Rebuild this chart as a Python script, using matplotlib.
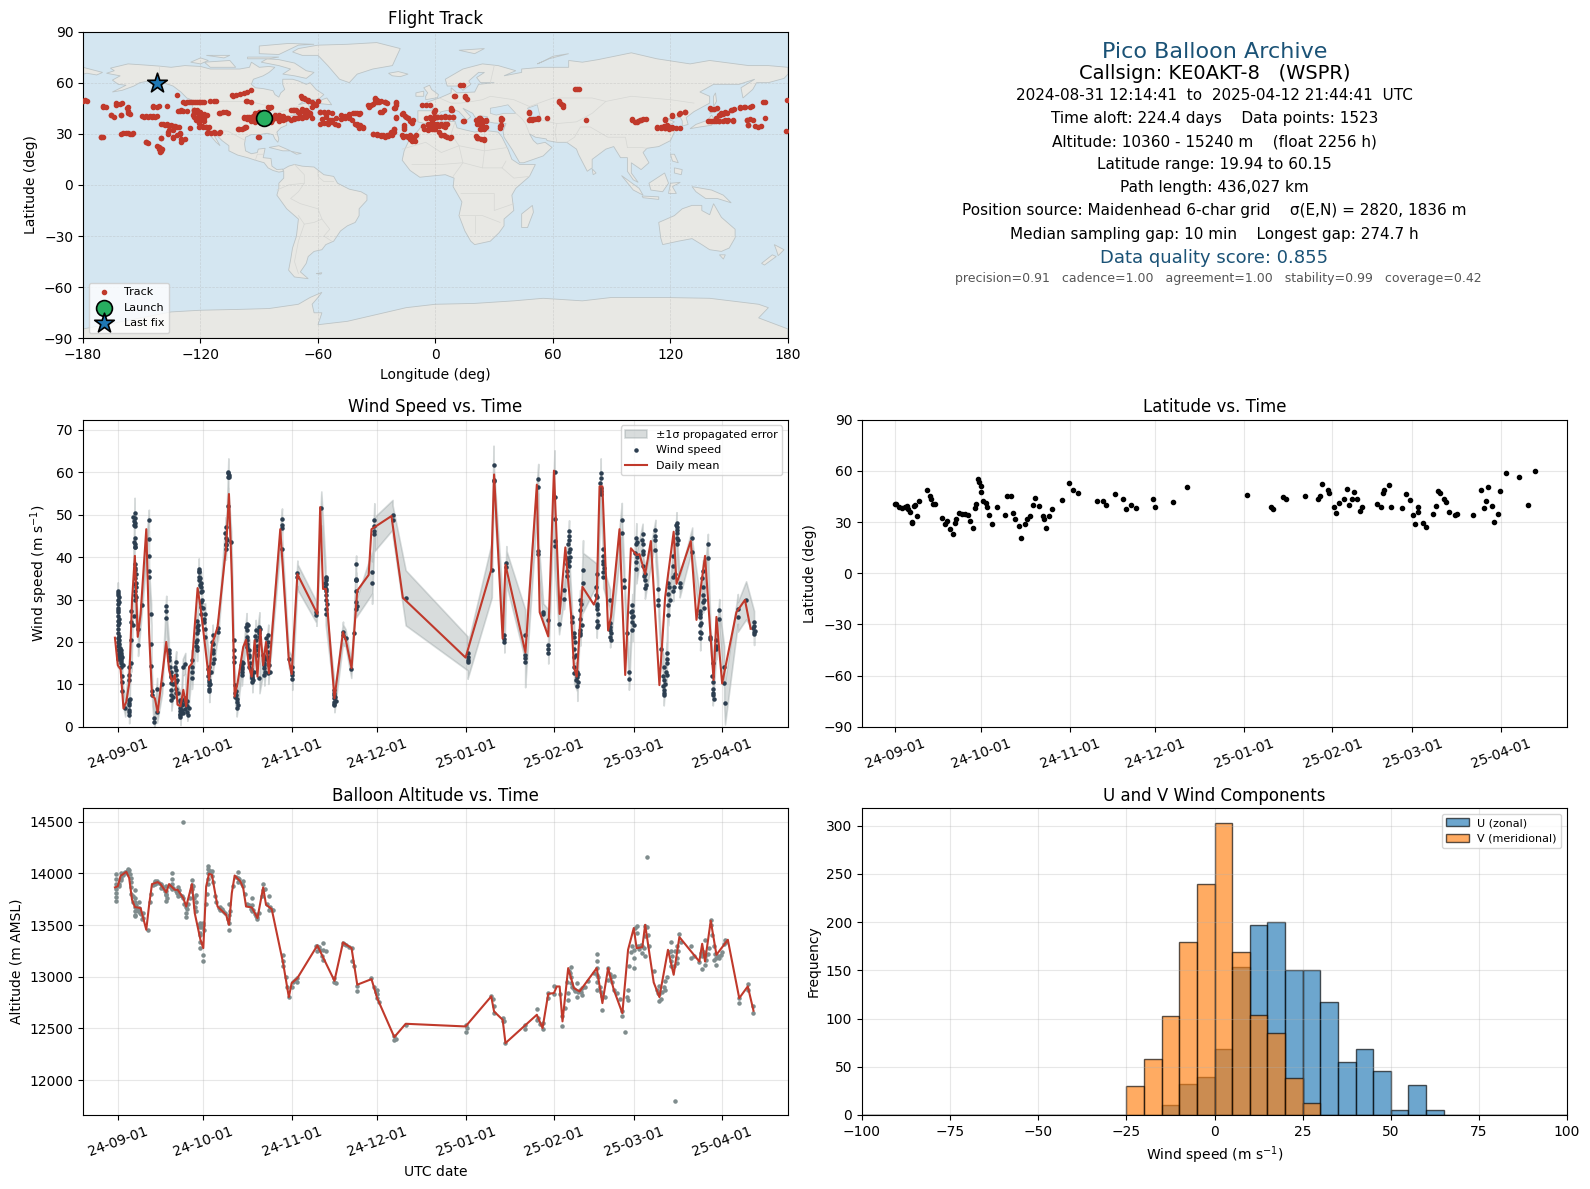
import datetime
import numpy as np
import matplotlib
matplotlib.use("Agg")
import matplotlib.pyplot as plt
import matplotlib.dates as mdates

# --- map outlines (lon, lat) ---
north_america = [(-168,65.5),(-164,67),(-166,68.5),(-157,71),(-148,70.3),(-141,69.7),(-135,69),(-128,70),(-120,69.5),(-115,68),(-108,68),(-100,68),(-95,69),(-94,72),(-90,69),(-85,69.5),(-82,69),(-85,66),(-88,64),(-93,62),(-94,59),(-92,57),(-88,56.5),(-83,55.3),(-82,53),(-80,51.5),(-79,54),(-77,56),(-78,59),(-78,62),(-73,62),(-70,61),(-66,59),(-64,60),(-61,56),(-57,53),(-60,50),(-66,50),(-70,47),(-65,48.5),(-64.5,46),(-61,46),(-64,44.5),(-67,45),(-70,43.5),(-71,41.5),(-74,40.5),(-76,38),(-76,35),(-79,33.5),(-81,31),(-80,27),(-80.5,25),(-82,27),(-83,29.5),(-86,30.3),(-90,29.5),(-94,29.5),(-97,28),(-97.5,24),(-97,20),(-94,18.3),(-91,19),(-90.5,21),(-87,21.5),(-88,16),(-84,15.5),(-83.5,11),(-81,9),(-78,9.3),(-77.5,8),(-80,7.5),(-83,8.5),(-85.5,10),(-87.5,13),(-92,14.5),(-96,16),(-101,17.5),(-105.5,20),(-105.5,23),(-109,26),(-112.5,30),(-114.5,31.5),(-112,27),(-110,23),(-112,25),(-115,29),(-117,32.5),(-120.5,34.5),(-122.5,37.5),(-124,40),(-124.5,43),(-124,47),(-122.5,49),(-127,51),(-130,54.5),(-134,58),(-139,60),(-146,61),(-151,60),(-154,58),(-160,55.5),(-165,54.5),(-158,58.5),(-162,59),(-165,61.5),(-161,64)]
south_america = [(-78,9),(-75,11),(-72,12),(-68,11),(-62,10.5),(-57,6),(-52,5),(-50,1),(-44,-2.5),(-38,-4),(-35,-6),(-35,-9),(-39,-14),(-39,-18),(-41,-22),(-45,-24),(-48.5,-27),(-52,-33),(-56,-35),(-58,-38),(-62,-39),(-65,-42),(-66,-46),(-69,-51),(-65,-55),(-72,-54),(-75,-50),(-74,-44),(-73,-37),(-71,-30),(-70,-20),(-76,-14),(-81,-6),(-80,-2),(-80,1),(-77.5,4),(-77.5,8)]
africa = [(-6,36),(3,37),(10,37.3),(11,33.5),(15,32.3),(20,31),(25,32),(32,31),(34,28),(37,21),(39,15),(43,12),(51,12),(48,5),(41,-2),(39,-6),(40,-15),(35,-20),(35,-24),(32.5,-28),(28,-33),(20,-35),(18,-33),(15,-27),(12,-18),(13.5,-10),(9,-1),(9.5,4),(5,6),(-4,5),(-8,4.5),(-13,8.5),(-17,14.5),(-16,20),(-13,27.5),(-9.5,31)]
eurasia = [(-9,37),(-9,43.5),(-2,43.5),(-1,46),(-4.5,48.5),(2,51),(8,54),(8,57),(11,54),(20,54.5),(22,59),(30,60),(23,60),(21,63),(25,66),(22,66),(17,61),(18,59),(14,55.5),(12,58),(6,58),(5,62),(14,68),(24,71),(32,70),(41,67),(35,64),(44,66),(44,68),(54,69),(68,69),(68,73),(75,72),(83,73.5),(100,77.5),(113,74),(130,71),(140,73),(160,70),(170,70),(180,69),(180,65),(178,62.5),(170,60),(164,60),(162,56),(157,51),(156,57),(163,62),(155,59),(142,59),(135,54.5),(140,52),(140,48),(132,43),(128,39.5),(129,35.5),(126,34.5),(126,37.5),(125,39.7),(121.5,39),(118,39),(122,37),(119.5,35),(122,31),(120,26),(114,22.5),(108,21.5),(106,19),(109,13),(105,9),(100,13),(100,7),(103.5,1.5),(101,3),(98,8),(98,16),(94.5,16),(91,22.5),(87,21),(80,15),(80,10),(77.5,8),(73,18),(72,21),(67,25),(62,25),(57,26),(56.5,27),(51,28),(48,30),(50,26),(52,24),(56,25),(59.5,22),(55,17),(45,13),(43,13),(39,21),(35,28),(34.5,31.5),(36,36),(30,36.3),(27,37),(26.5,40),(23,40.5),(23,37),(20,40),(19,42),(14,45),(18,40),(16,38),(12,43),(9,44.3),(3,43),(0,39),(-2,37),(-5.5,36)]
antarctica = [(-180,-84.5),(-155,-79),(-135,-74.5),(-120,-73.5),(-100,-73),(-85,-72.5),(-70,-70),(-64,-66),(-58,-63),(-60,-66),(-63,-70),(-62,-75),(-58,-75),(-60,-82),(-45,-80),(-30,-76),(-15,-72),(0,-70),(20,-69.5),(40,-68),(55,-66.5),(75,-68),(90,-66),(115,-66),(140,-66.5),(165,-70),(170,-72),(165,-78),(180,-84.5),(180,-90),(-180,-90)]
islands = [
    [(-73,78),(-68,76),(-60,76),(-55,70),(-52,66),(-49,62),(-44,60),(-40,65),(-32,68),(-22,70),(-20,75),(-18,80),(-30,83.5),(-45,82.5),(-60,82),(-70,80)],
    [(-80,73.5),(-72,71.5),(-66,67),(-62,66),(-66,62.5),(-72,64),(-78,65),(-74,68),(-80,70),(-89,72),(-86,74)],
    [(-118,72),(-105,73),(-102,69),(-115,69)], [(-125,72),(-120,74.5),(-116,73),(-120,71)],
    [(-90,77),(-80,76.5),(-70,82),(-62,82.5),(-75,83),(-90,81.5)], [(-96,75),(-80,75),(-85,74),(-96,74)],
    [(-117,76),(-105,76),(-108,74.5)], [(-59,47.7),(-53,47),(-55.5,51),(-58,50)],
    [(-5,50),(1,51.2),(1.5,53),(-2,56),(-3,58.5),(-6,57),(-4,54),(-5,52)], [(-10,52),(-6,52),(-6,55),(-10,54)],
    [(-24,65.5),(-19,66.5),(-14,65),(-18,63.5),(-22,64)], [(12,79),(25,80),(20,77)],
    [(52,71),(58,74),(68,77),(60,75.5),(55,72.5)], [(130,33),(135,34),(141,35),(142,39),(141,41),(139,38),(133,35.5)],
    [(140,42),(145,43.5),(142,45.5)], [(142,46),(143.5,49),(143,54),(142,52)], [(120,18),(122,18),(124,13),(121,14)],
    [(122,10),(126,9),(125.5,6),(122,7)], [(95,5.5),(104,-2),(106,-6),(101,-3)], [(109,1),(117,7),(119,1),(116,-4),(110,-3)],
    [(105.5,-6.5),(114,-7),(114,-8.5),(106,-7.5)], [(119,-5),(120,1),(125,1.5),(121,-1),(123,-5)],
    [(131,-1),(141,-3),(147,-6),(151,-10.5),(144,-8),(138,-8),(133,-4)],
    [(114,-22),(122,-18),(126,-14),(131,-12),(136,-12),(136,-15),(140,-17.5),(142,-11),(146,-19),(153,-26),(153,-31),(150,-37),(146,-39),(140,-38),(136,-35),(131,-31.5),(124,-33),(116,-35),(115,-31)],
    [(145,-41),(148,-41),(147,-43.5)], [(173,-35),(178,-38),(175,-41.5),(174,-38)], [(172,-41),(174,-42),(168,-47),(166.5,-46)],
    [(49.5,-12),(50,-16),(47,-25),(44,-25),(44,-17)], [(80,9.5),(82,7),(80.5,6)], [(-85,22),(-80,23),(-74,20),(-78,20)],
    [(-74,19.8),(-68.5,18.5),(-71,18)], [(-61,-52),(-58,-51.5),(-58.5,-52.3)], [(-180,69),(-175,67.5),(-170,66),(-173,64.5),(-178,65.5),(-180,65)],
]
inland_seas = [[(28,42),(28,45),(33,46),(37,47),(41,42),(35,42),(31,41)], [(47,45),(52,47),(53,42),(54,38),(50,37),(49,41)]]
borders = [
    [(-141,60),(-141,69.7)], [(-122.5,49),(-95,49),(-84,46),(-82,42),(-76,44),(-70,46),(-67,45)], [(-117,32.5),(-106,31.5),(-97,26)],
    [(-92,14.5),(-91,18),(-88,18)], [(-72,12),(-67,6),(-67,1),(-70,-4),(-74,-8),(-69,-11),(-60,-14),(-58,-20),(-54,-26),(-57,-30),(-53,-33)],
    [(-81,-3),(-75,0),(-67,1)], [(-70,-18),(-67,-23),(-70,-33),(-72,-45),(-70,-52)], [(-60,8),(-60,5),(-57,2),(-52,2)], [(-58,-20),(-62,-22),(-67,-23)],
    [(-13,27.5),(-8,27),(-8,30)], [(-17,21),(-5,25),(3,19),(12,23),(25,20),(37,22)], [(25,32),(25,20),(24,10),(34,10),(36,14)], [(10,37),(8,30),(12,23),(14,13),(9,5)],
    [(-12,12),(3,12),(14,13),(24,10)], [(13,-5),(30,-5),(30,-15),(40,-11)], [(12,-18),(24,-18),(33,-22)], [(20,-28),(20,-18)], [(34,10),(40,4),(48,5)],
    [(2,51),(8,48),(13,48),(19,49),(24,50),(28,52),(40,50),(48,46)], [(-2,43.5),(3,43)], [(28,60),(30,70)], [(48,46),(60,51),(80,51),(87,49),(100,52),(120,50),(132,48)],
    [(54,38),(62,36),(72,37),(80,42),(87,49)], [(48,30),(46,36),(44,39),(41,42)], [(62,25),(61,31),(62,36)], [(67,25),(71,28),(74,34),(79,34),(88,28),(97,28),(98,22)], [(98,22),(105,22),(108,21.5)],
]

# --- flight track fixes (lon, lat) ---
track_fixes = [
    (-180,49.2),(-178,49),(-170,45.9),(-168.5,45.9),(-163,47),(-161,47.4),(-157.5,45.3),(-157,43.5),(-156,41.4),(-165.5,40.8),(-164,39.8),(-160.5,40.8),
    (-149,40),(-147,40),(-145,40),(-143,40),(-144,46),(-142,46),(-137,46.5),(-132,53),(-130.5,43.3),(-129,43.6),(-127,43.3),
    (-128,48.2),(-126,48.6),(-124,48.6),(-122,48.8),(-120,48.8),(-118,48.8),(-115,49),(-113,49.3),(-112,49),
    (-123.5,43.7),(-122,42.5),(-121,41),(-120,40),(-119,38.5),(-118,37.5),(-122.4,37.9),(-123.6,40.8),(-120,43),(-118,41.5),
    (-110.6,42.2),(-108.5,42.5),(-106,42.2),(-103.6,52),(-102,52.8),(-100,53.5),(-98,54.2),(-96,54.8),(-94.2,55.4),(-96.5,49),(-94.4,48.8),
    (-97.7,39.4),(-96,38.8),(-95,40),(-94,39),(-93,40.5),(-92,38.5),(-91,39.8),(-90,41),(-89,38.5),(-88,40),(-87,41),(-86,38.5),(-85,39.5),(-84,40),(-83.6,38.2),
    (-85,45.3),(-84,46),(-90.7,28.1),(-90,28.3),(-100.5,33),(-99,33),(-97.3,33.8),(-118.8,34),(-117,34),(-115.5,34),(-116.5,30.7),(-114.5,30.7),(-112.5,30.7),(-110.6,30.7),
    (-140,35.5),(-138,35),(-136,34.5),(-134,34.5),(-132,34.2),(-131,34),(-136.4,30),(-136,32),(-130.5,30),(-132,29),(-129.4,26.2),(-130,27),(-134,27.5),
    (-160.5,30),(-158,30.3),(-156,30),(-155.2,29.8),(-171,28),(-170,28),(-148,25),(-147,24.5),(-141,22.5),(-141,21),(-140,20),(-142,23),(-140.4,27.7),(-125.4,33.6),
    (-81,39.3),(-79,39.8),(-77,38.8),(-75.5,39.4),(-68.4,51.2),(-66.5,50.2),(-65,49.6),(-63,48.5),(-61.4,47.6),(-60,49),(-66,44),(-63,45.5),(-73,43.7),(-71,44),(-69,43),(-67,42.5),
    (-72,38.9),(-70,39.5),(-68,39),(-66,40),(-64,41),(-63,39),(-59,42.8),(-57,42.5),(-55,43),(-53,42),(-57.8,38.9),(-56,40),(-54,38),(-53,37),(-51.5,36),(-50,35),(-55,35.5),(-48.5,38.9),(-46,39),(-44,39.5),
    (-44,41.5),(-42,42),(-40,42),(-39,41.8),(-42.6,37.9),(-41,36),(-40,35),(-39,33.6),(-37,33.6),(-34.4,46.7),(-32,47.5),(-30,48.5),(-28,49),(-26,48.6),(-25,48.2),(-31,50.6),(-30,50),
    (-27.4,42.8),(-26.5,44),(-20,48.6),(-20,47),(-20.5,45.3),(-20,39.4),(-17,41.8),(-15.5,40.5),(-14,39),(-13,37.5),(-12,36.5),(-16.2,35),(-16,33),
    (-32,29.7),(-30,29),(-28,28.5),(-26,28.3),(-24,28.5),(-22,29),(-21,31),(-21,33),(-17,29),(-15,28.5),(-13,27),(-12,26),(-10.5,25.8),(-13,29),
    (-7,46.7),(-5,46.8),(-3,46.7),(-1,42.8),(-0.5,44),(-5,39.4),(-3,39),(-1,39.4),(1,39.6),(3,39.6),(5,39.6),(7,39.6),(9,39.6),(-6.3,34.4),(-4,35),(-2,34.6),(0,34.4),(2,34.4),(4,34.6),(5,34),(-6,33),(-4,32.5),(-2,33),(-1,33.5),
    (2,31),(3,29.5),(4.2,29),(6,28),(7.3,27.7),(7.8,43.7),(8,45),(9.6,52),(12.7,58.4),(14,58.8),(15.2,51.5),(16,50.5),(14.3,37.3),
    (20.6,37.9),(22,39),(24,38),(26,37.5),(22,36),(24,34.5),(26,34),(23,33),(21.8,27.7),(20.5,28.5),(24.9,26.6),(33.6,38.2),(33.6,39),(33,34.8),(33,33.5),
    (47.6,42.4),(47.6,38.3),(49.5,38.3),(51,38.8),(52.3,39),(57,39.4),(63.3,48.6),(64,47.5),(65,46),(71,56.4),(72.2,56.4),(73.5,56.4),(76.9,38.3),
    (100.3,37.9),(102,37),(103.5,37.5),(105,38),(107.3,38.5),(113.2,33.6),(115,33.6),(117,33.5),(119,33.8),(121,33.6),(123,33.6),(125,33.6),(117.2,38.3),(120.7,40.4),(124.5,41.8),(127.3,42.8),
    (140.9,44.7),(142,44.8),(139,37.3),(141,37.5),(143,37.3),(145,37.6),(147.9,37.8),(149.5,37.8),(151.9,37.8),(143,39),(144.9,40.8),(146,42),(148,43),(150.7,43.7),(152.5,44.5),(155.4,45.3),(157.5,45.5),(160.8,46),(167.3,48.8),(168.5,48.8),
    (158.9,37.9),(160.5,38.5),(159.6,35),(163,34.8),(164.8,34.2),(168.3,39.4),(179.3,49.6),(178.9,31.6),
]
track_fixes_more = [
    (-179.1,49.8),(-170,46.3),(-163,48),(-160,48),(-157,46),(-157,42),(-165.5,41),(-160.4,41),(-150,40.5),(-148,40.5),(-146,40.5),(-144,40.5),(-142,40.5),(-144,46.3),(-141,46.3),
    (-139,36),(-137,35.5),(-135,35),(-133,34.8),(-136.6,31),(-134,32),(-140,27.7),(-134,28.3),(-130.6,30.3),(-128,26.8),(-130,25.4),(-159.6,30.3),(-157,30.3),(-154.5,30.3),(-170.6,28.3),(-147.7,25.4),(-140.9,21.5),(-140.9,19.5),(-139.5,21),
    (-129,48.9),(-127,48.9),(-125,48.9),(-123,48.9),(-121,48.9),(-119,48.9),(-131.5,43.6),(-130,44),(-123.5,44),(-123.5,42),(-123.5,40),(-122,39),(-120,41.6),(-118,39.5),(-116.5,41),(-122,44),(-120,38),(-121,36.5),
    (-121,34.2),(-119,34.6),(-117,34.2),(-116,30.9),(-113,31),(-110,30.9),(-110,42.4),(-107,42.8),(-104,52.8),(-96.6,49.4),(-101,33),(-98,33.4),(-96.6,33.8),
    (-98,40),(-96,40),(-94,37.5),(-92,42),(-92,37),(-90,38),(-90,42.5),(-88,37.5),(-86,41),(-84,37),(-82,39),(-82,41),(-80,37.5),(-80,41),(-78,38),(-78,40.5),(-76,39.5),
    (-85.5,46),(-73.6,38),(-72.5,39.5),(-71,39),(-69.5,40),(-68,40),(-66,41),(-64,42),(-74,44),(-72,44),(-70,43),(-68,44.5),(-65,43),(-68.5,52),(-67,51),(-65,49.5),(-61,47),(-59,43),(-56,41),(-59,36),(-57,36.5),(-55,37),(-53,38),(-51,39),
    (-48,41),(-46,40.5),(-44,40),(-41,42),(-38.7,42),(-40,36),(-38.5,35),(-37,34),(-34,46),(-33,47),(-31,48.5),(-29,48.8),(-26,48.5),(-31,50.8),(-28.5,43),(-20,48),(-21,45),(-20,39.7),(-16.6,42),(-15,40),(-14,39.5),(-11.5,38),(-16,34),
    (-32,30),(-30,30),(-28,29.5),(-27,29.3),(-25,29.5),(-23,30),(-22.5,31),(-21,33),(-16.6,28),(-14,28),(-12,26.4),(-10,29.4),(-11,28),
    (-2.8,40),(-1,40),(1,40),(3,40),(5,40.3),(7,40),(9,40),(-2.8,35.8),(-1,35.8),(1,35.8),(3,35.8),(5,35.8),(6,35.8),(-1,32.6),(0,32.6),(-4,36),(-2,38),
    (3,29),(5,28.8),(8,28.3),(10,52),(15,52),(8.3,44),(-.8,43),(14.7,37.5),(21,38),(22,37),(22.7,39),(26,38),(25,33),(22.7,33),(21,36),(24,36),(21,27.4),(23,27),(25,27),(33.8,38.5),(33.3,35),
    (48,42.6),(48.3,38.5),(50,38.5),(52.5,38.5),(63.2,49),(65,47),(100.2,38.5),(102.7,37),(104.5,37.8),(106,38.7),(113,33.8),(115,33.8),(117,33.5),(119,33),(121,33.8),(118.4,35),(116.5,34.5),
    (117.2,38.5),(121,41),(124.9,42),(127.4,43),(140,45),(143.5,45),(140,37.5),(142,37.5),(145,37.5),(147,37.5),(149,37.5),(152,37.5),(145.3,41),(147,41.5),(148.7,42.4),(151.2,44),(155.5,45.5),(158,45.5),(161.5,46.3),(159,38),(162.3,38),(159.8,35),(166,34.5),
]
launch_lon, launch_lat = -87.4, 39.4
last_lon, last_lat = -142.3, 59.9

# --- wind: columns of readings, day counted from 2024-09-01 ---
wind_days = [0,1,1.6,2.6,4,4.8,5.9,7.1,8.4,10.9,11.7,12.1,12.8,13.8,15.6,17,17.9,18.8,20.5,22,22.8,23.7,24.4,26,27.8,28.4,29.3,30.7,32.1,33.3,35.1,37.9,38.8,39.8,40.6,41.2,41.7,43.5,45.2,46.2,47.2,48.4,49.7,51.4,52.8,57.6,60,61.2,63,69.7,71.4,72.9,76,79,79.9,81.9,82.7,83.6,89.2,90,96.4,101,
             122.7,131.2,131.8,135.6,136.3,142.9,147.5,149.2,151,153.2,154.8,156.5,157.6,158.3,159.3,160.1,161.2,162.2,163.2,168,169.4,170.3,172.7,176.8,177.7,178.5,179.3,180.5,181.9,184.1,184.9,188.6,189.6,190.5,191.5,192.5,193,194.8,196,197.1,201.5,204.3,205.3,207,207.9,208.7,210,211,212.7,213,217.5,220.4,223.2]
wind_vals = [
    [32,31,30,29,28,27,26,25,24,23,22,21,20,19,18,17,16],[18,17,16,15.5,15,14],[12,10.6,8.3],[4.4],[14,12.2,11,6.3,5.2,4,2.8],[27.4,24.7,20.4,15],
    [50.5,49.3,48,47.3,44.6,43,42.3,38.4,37,35,33.7,32,29.8],[23,19.2],[28.8],[48.7,44.2,40.3,36.8,35.2],[26.5,19.4,14.3],[8.3,7.5],[2,1],[9,3.4],[10],[28.4,27.2,25.7],[18,17.3,16.5,15.7],
    [13,11.8,10.2,8.7,7.5,6.3],[15.3,13.4,12.2,10.6,9,7.9],[6.3,4.4,3.6,2.8,2.4],[14],[14.9,6.7,5.5],[4.8,3.4],[15.7,14,13,11.4],[25,23.5,22,20.4,18.8,18],[37.2,36.4,35.2,34.5],[34,32.9,31.7,29.4,28.2,26.6],
    [26.6,23,21.2],[14,12.6,11,9.8,9,8.3],[21.6,19.6,17.3,15],[23.4,22.3],[47,44.6,43,41.9],[59.8,59,52],[43.6],[20.5,18,16.5,15.3],[9.8,7.9,7.1],[5.9,4.4],[15.3,14,13,12.2],[24.3,22.7,21.2,19.6],[18,16.5,14],[12.2,11.4,10.6],
    [22.7,20.4,18],[23.5,22,21.2,11.4],[16.5,15,13.8,12.2],[21.6,20,17.7,15.7,12.6],[49,47.6,46.8,41.9],[15.9],[14,13,12.2,11.2],[36.2,35.4],[27,26.3],[51.5],[35.2,34.5,33.7,32.5,31,30,27.8,26.6],[8.7,7.5,6.7,5.9,5.4],[22.3,21.6],[21],[13.5],[22],
    [38.4,34.8,34.5,32.1,29.4,27.8],[36.4,34],[48.7,47.3,46.2,45.4],[50,48.7],[30.4],
    [17.3,16.5,15.7,15.3],[37],[61.8,58.3,57.9],[21.6,20.8,20],[38.6,37.6],[21.7,16.9,16.1,15.3],[58.5,56.6,41.5,40.7],[27,26.6],[25.2,19.2,18.4,17.4],[60.2,54.1,49.1,43.8,42.7],[24.3],[32.3,30.2],[39.9,38.4,36.8,35.6],[46.2,45,44,41.1,39.1,38],[25.9,24.7],[22,21.2,18.4,16.5,14,12.6],[11.8,9.6],[29.8,27.6,25.5,22.7,21.6],[37,34],
    [36,30.5,29,27.8,25,23.5],[59.8,58.7,56.3,54.8],[41.9,40.3,38.4,36.4,35.2],[29.9,23.5,22.7,21.2],[48.8,45.8],[34.5,33],[22],[13,11.2],[28.8,27.4,25.9,24.7,22.7],[44.5,43,38.8,37.3],[45.4,43,40.7,38],[36,34.5,32.7],[46.3,45,41.6],[32.5,30,28.8],[18.4],[14,11,8.7,7.5],[17.3,15,12.2],[34,31.3,28.6,26.3],[40.3,35.2,32.1],[48.1,47,45.8,44.6,43],[34,33],[44.5,41.3],
    [27.4,25.9,23.9,22.3,21],[36.8,32.9,31,29.4],[43,39.8],[21.2,20.8],[15,10.6,9,7.5],[20.4,18.4],[27.6,25.5],[14,10.2],[5.5],[27.8,25.9],[29.8],[24.8,23.7,22.3,21.8],
]
wind_errs = [2,2,2.5,2,2,2,3.5,2.5,2,2.5,2.5,2.5,2,2.5,2,2.5,2.5,2.5,2.5,2,2,2.5,2,2.5,2.5,2.5,2.5,2.5,2.5,2.5,2,2.5,3.5,2.5,2.5,2,2,2.5,2.5,2.5,2.5,2.5,3.5,2.5,2.5,2.5,2,2.5,3,2.5,4,2.5,2,2.5,2,2,2.5,2,5,4,3.5,6.5,
             4,6.5,4.5,2.5,4,6,3.5,2.5,2.5,5,2.5,2.5,2.5,2.5,2.5,2.5,3.5,2.5,7,2.5,3.5,2.5,2.5,4,2.5,2.5,2.5,2.5,3.5,2.5,2.5,2.5,2.5,2.5,2.5,2.5,2.5,2.5,2.5,2.5,2.5,3,2.5,2.5,2.5,2.5,2.5,2.5,5,5,3.5,4.5,2.5]
wind_more_days = [.2,.3,.4,.2,.3,.5,.3,.4,.6,.7,.5,.8,1.3,1.5,1.8,5.5,5.6,5.7,5.8,5.9,6.2,6.3,6.4,6.5,6.2,6.4,5.7,5.5,3.8,3.9,4.2,22,22.2,22.4,21.8,22.6,23,23.4,23.6,24,24.2,24.6,24.9,18.2,18.5,19.2,19.5,20,20.8,21,
                  28.6,28.8,29,29.5,29.7,30,30.2,30.4,28,28.2,27.5,27.3,31.6,31.8,32,32.4,32.6,33,33.5,33.8,37.6,37.8,38.2,38.7,38.9,39,41.4,41.5,41.9,42,43.3,43.7,43.9,45,45.3,45.5,45.7,46,46.5,46.8,47,47.5,47.7,48.2,48.7,49,49.5,49.9,51,51.2,51.5,51.8,52,52.3,52.6,53,53.3,
                  72.6,72.8,73.1,73.3,72.9,75.8,76.2,76.4,76,83.7,84,158.1,158.5,158.7,160.3,160.6,161,161.4,160.8,161.6,162.5,162.7,162,167.7,167.9,168.2,168.4,168.6,169.2,169.6,170.1,170.5,172.5,173,172.9,
                  180.2,180.7,181,181.4,182,182.3,183.8,184.3,184.6,185.2,188.4,191.1,191.3,191.7,191.9,192.2,192.8,193.3,193.6,194.6,195,195.5,195.8,196.2,196.4,204.1,204.5,204.7,205,205.5,205.6,208.5,208.9,209.1,209.8,222.9,223.4]
wind_more_vals = [31.5,30.5,29.5,27.5,25.5,24.5,21.5,20.5,19.5,18.5,17.5,16.5,17.5,16.5,14.5,49.5,48.5,47.5,43.5,42.5,37.5,36,34,33,31,30.5,26,24,3.5,5.5,6.5,3,5.5,4,6,5,3.2,6.2,4.2,5,6,2.8,4.4,14,12,10,7,14,11,8,
                  36.8,35,33.5,32,30,28,25.5,24.8,22.8,24,20,19,13.5,12,10.5,10,13,20,18,16,45.8,42.8,44,60,59.4,58.8,8.5,7.5,6.5,5.2,14.5,13.5,15,23.5,20.5,18.8,24,17,15,13.5,11.8,11,12.8,21.5,19,17,22.5,23,17,14.5,12.8,16,21,19,16.5,14.5,13,
                  34,33,32,29,35,8,7,6,5,34.6,28.5,43,42,40,20,17,13,10.5,11,12.5,29,24,22,33,31,28.5,26.5,24,57.5,55.5,39,37.5,24.5,22,20.5,
                  27,26,24,41,43.5,40,44,41.5,35.5,33.5,44,12,9.5,8,10,13,16,33,30,38,33,36,47.5,46.4,44,26.5,24.5,22,35,30,28,12,8,6.5,19,23.2,22.6]
mean_days = [-1,0,1,2,3,4,5,6,7,8,10,11,12,13,14,17,18,19,20,21,22,23,24,25,26,28,29,30,32,33,35,38,39,40,41,42,44,45,46,47,48,49,50,51,52,53,57,60,61,63,70,71,72,73,76,79,80,82,84,88,89,96,100,
             122,131,132,135,136,143,147,148,151,153,155,157,159,160,161,163,167,168,169,170,172,173,176,178,180,182,183,185,187,190,192,195,196,201,203,206,209,210,212,217,220,222]
mean_speed = [21,14.5,13.5,4.3,5.9,10.2,29.8,40.3,21.2,26.6,46.6,22,7.3,6.7,3.4,20,13.4,10.6,12.2,5.2,4.8,8.7,4.8,14.1,14.9,32.7,28.2,22.7,11,19.2,23.5,42.3,54.9,35.2,7.1,10.2,18.8,20.5,14.1,11.8,20.4,11.8,22.9,14.5,20,12.6,46.6,15.7,12.4,36,26.6,51.8,32.5,32.5,6.7,22.3,20.4,13.8,32.1,35.8,46.6,49.7,30.4,
              16.3,37,59.5,20.8,38.2,17.5,57.1,27,21.3,60.4,26.6,42.3,26.6,14.1,11.8,33,28.8,30.5,56.7,56.7,22.7,25.9,46.6,12.2,42.1,40.5,40.7,36,43.8,9.8,30.5,46,33.7,43.8,25.2,40.3,11,25.9,10.2,27,29.9,23.1]

# --- latitude fixes ---
lat_days = [0,.3,1.4,2.2,3.3,4.1,4.5,5.2,5.8,5.8,6.6,6.9,7.5,8.4,11.1,12,12.3,13.3,14,16.3,17.3,18.1,19,20.2,20.9,21.3,22.2,23.3,24.4,25.3,26.1,27,27.8,28.3,28.8,29.2,29.8,29.8,30.8,31.6,32,32.7,33.8,35.5,38.3,39.2,40.3,41.1,42,43.3,44.1,45.2,45.9,47,48,48.9,50.2,51.7,52,52.8,53.6,54.7,58.4,60.9,62,63.8,70.6,72.8,73.6,76.7,79.5,80.6,82.3,84.2,90,90.8,97.2,101.9,
            123,131.4,132.2,135.8,136.6,143.3,148,148.6,149.5,151.4,151.7,153.4,154.2,155.2,156.9,158,158.9,159.9,160.6,161.6,162.8,163.5,168.6,169.9,170.6,171,172.7,173.4,177.2,178.8,180,181.1,181.9,182.8,182.8,184.8,185.6,188.1,189.2,190.1,190.7,192,192.9,193.9,195.8,196.7,202.3,205,205.9,206.8,207.6,208.8,209.7,210.8,211.7,213.6,218.4,221.3,223.9]
lat_vals = [40.5,40.9,38.8,38.2,38.8,39.6,37.8,36,30.2,29.2,39.4,40.1,33.5,42.5,49.1,45.6,43.3,40.9,40.7,32.5,28.6,30.6,25.7,22.8,29.6,32,35.1,34.9,34.5,33.9,30.6,26.7,38.4,40.7,55,53.4,51,47.5,42.3,41.3,38.6,33.9,28.6,38.6,33.9,45.2,45.6,35.5,31.6,28,20.4,28.6,31.6,33.5,40.3,44.2,39.7,33.5,31.6,26.7,33.5,37.8,42.9,53,49.1,46.8,42.3,42.1,40.3,46.6,43.3,37.8,39.9,38.4,43.3,38.8,41.7,50.7,
            46,39,37.4,44.6,43.3,45.4,43.3,45.2,52.2,49.1,46.8,39,35.1,41.3,43.8,49.5,39.9,43.6,47.7,43.8,36.4,38.8,40.7,39,47.2,49.1,52,39,38.2,46.2,42.9,33.9,28.6,39,35.8,29.2,27.3,34.9,39.4,48.1,46.8,43.6,41.7,35.8,33.9,34.9,34.3,48.7,38.4,42.3,50.5,39.7,30.2,34.5,48.1,58.8,56.5,40.1,59.8]

# --- altitude ---
alt_days = [-.5,1,3.5,4.5,6,7.5,9,10.5,13,15,17,19,21,24,26,27.5,29,30,31.5,33,36,39,42,44,47,49,51,53,54,23,58,60,61,63,70,72,76,79,82,84,89,91,97,101,122,131,132,135,136,143,147,149,151,153,156,158,159,161,163,168,170,172,174,177,179,178,181,182,184,185,185.5,188,190,192,194,195.5,196,197,201,205,206,208,209,210,213,218,221,223]
alt_vals = [
    [13730,13770,13810,13850,13900,13950,13990],[13960,14000],[14040,14010,13990],[13960,13920,13800],[13840,13760,13720,13680,13640,13600,13590],[13720,13670,13640],[13620,13570],[13455],[13900,13920,13930],[13900,13860],[13730,13800,13830,13880],[14000,13950,13900,13850],[13870,13820,13780],
    [13680,13620,13580],[13940,13890,13850],[13790,13720,13640],[13520,13480,13400,13340,13280],[13210,13150,13500,13520],[14070,14040,14000,13950,13900],[14020,13980],[13680,13650],[13700,13600,13520,13450],[14010,13960,13920],[13930,13880],[13760,13690,13640],[13580,13560],[13900,13840],[13780,13650],[13650],[14497],
    [13210,13150,13100],[12803],[12905],[12945,12987],[13300,13245],[13325,13260,13165],[12987,12945],[13330],[13277,13150],[12907,12860],[12987],[12875,12793,12830],[12430,12385],[12535],[12535,12470],[12810],[12713,12648],[12600,12568],[12358],[12535,12495],[12687,12584],[12552,12495],[12842,12793],[12906,12835],[12616,12525],[12842,12777],[13093,13000,12940],[12940,12803],[12890,12825],
    [13220,13150,13080,13020,12950,12875],[12810,12680],[13084,12970],[13003,12875],[12664,12616],[12875,12777],[12470],[13260,13180,13084],[13490,13420],[13293,13230],[13490,13390,13200],[14158],[13051],[12907,12830,12770],[12955,12875],[13332,13250,13150,13100],[11797],[13293,13180,13130],[13416],[13300,13180],[13197,13074],[13358,13200,13116],[13552,13503],[13293,13165],[13181,13116],[13358],[12793,12745],[12932,12875],[12719,12648],
]
alt_more_days = [.3,.6,1.3,1.7,2.3,2.7,3.2,3.8,4.2,4.8,5.2,5.5,6.4,6.8,7.2,7.7,8.2,8.6,11.3,11.6,12.4,13.4,13.8,14.4,15.4,15.8,16.4,16.8,17.4,18.4,18.8,19.4,20.4,20.8,21.4,21.8,22.4,22.8,23.4,24.4,24.8,25.4,25.8,26.4,26.8,27.2,28.4,28.8,29.4,30.4,30.8,31.2,32.4,32.8,33.4,34,34.5,35.5,36.5,37,37.5,38.5,39.5,40.5,41.5,42.5,43.5,44.5,45.5,46.2,46.8,47.5,48,48.5,49.5,50.5,51.5,52.5,53.5,54.5,
                 59,59.5,61.5,62.2,69.5,70.5,71,71.5,73,76.5,79.5,80,81,83,90,90.5,91.5,97.5,122.5,131.5,135.5,147.5,148,155,157,157.5,158.3,158.8,159.5,160,160.5,161.5,162,162.5,164,165,167,168.5,169,169.5,171,172.5,173,173.5,175,176,178.7,179.5,180,180.5,181.5,182.5,183,183.5,184.5,185.5,186,186.5,189,189.5,190.5,191,191.5,192.5,193.5,194.5,195,195.5,196.5,197.5,202,204,204.5,205.5,206.5,207,207.5,208.5,209.5,210.5,211,211.5,212,212.5,213.5]
alt_more_vals = [13880,13900,13940,13985,14000,14010,14020,14030,13990,13870,13780,13720,13690,13650,13640,13620,13610,13560,13720,13800,13890,13910,13925,13905,13880,13860,13830,13790,13760,13880,13870,13860,13830,13810,13840,13790,13780,13760,13700,13660,13700,13760,13830,13880,13760,13680,13500,13420,13480,13450,13700,13800,14020,14010,13920,13780,13720,13670,13660,13640,13620,13560,13640,13880,13970,13950,13900,13800,13700,13690,13660,13650,13610,13590,13620,13780,13850,13700,13680,13650,
                 13000,12900,12950,12970,13300,13290,13260,13200,13250,12940,13320,13310,13290,13100,12900,12850,12760,12400,12500,12780,12570,12600,12540,12830,12700,12950,13060,13040,12900,12880,12860,12850,12870,12850,12900,12960,13040,13000,12900,12850,12800,13030,13000,12950,12840,12780,12800,13100,13240,13300,13470,13300,13270,13310,13280,13480,13400,13300,12870,12840,12780,12850,12900,13000,13240,13200,13100,13250,13250,13340,13200,13140,13230,13240,13160,13220,13280,13400,13220,13200,13180,13210,13240,13320,13340]
alt_mean_days = [-1,0,1,3,4,5,6,8,10,11,12,14,15,17,18,20,21,23,24,26,27,29,30,31,32,33,35,38,39,40,41,43,44,45,47,49,51,52,54,58,60,61,63,70,76,79,82,84,89,91,97,101,122,131,132,135,136,147,149,151,153,154,155,156,158,160,162,168,170,172,174,177,179,181,182,184,185,188,190,193,195,197,204,205,206,208,210,214,218,221,223]
alt_mean = [13865,13875,13977,14016,13955,13745,13675,13665,13455,13697,13897,13916,13897,13816,13897,13842,13842,13761,13680,13897,13616,13358,13277,13874,13997,13987,13680,13600,13503,13810,13980,13923,13858,13680,13671,13568,13865,13697,13655,13132,12803,12939,12987,13303,12961,13332,13277,12923,12977,12793,12416,12545,12519,12810,12664,12584,12358,12632,12503,12835,12842,12906,12906,12568,13084,12890,12858,13084,12745,13084,12874,12648,13261,13471,13277,13287,13503,12945,12803,13261,13019,13384,13148,13319,13148,13542,13213,13358,12793,12907,12671]

# --- histogram ---
bin_left = list(range(-25, 65, 5))
u_counts = [0,0,10,32,39,68,153,197,200,150,150,117,55,68,46,5,31,5]
v_counts = [30,58,103,179,240,303,169,104,85,38,12,0,0,0,0,0,0,0]
hist_edges = list(range(-100, 105, 5))

score_lines = ["2024-08-31 12:14:41  to  2025-04-12 21:44:41  UTC",
               "Time aloft: 224.4 days    Data points: 1523",
               "Altitude: 10360 - 15240 m    (float 2256 h)",
               "Latitude range: 19.94 to 60.15",
               "Path length: 436,027 km",
               "Position source: Maidenhead 6-char grid    σ(E,N) = 2820, 1836 m",
               "Median sampling gap: 10 min    Longest gap: 274.7 h"]
line_y = [0.792, 0.717, 0.64, 0.568, 0.492, 0.416, 0.34]

RED = "#c0392b"
NAVY = "#2c3e50"
GREY = "#7f8c8d"
TITLE_BLUE = "#1a5276"

day0 = mdates.date2num(datetime.datetime(2024, 9, 1))

def to_dates(days):
    return day0 + np.array(days, dtype=float)

plt.rcParams["axes.titlepad"] = 5.3

fig, axes = plt.subplots(3, 2, figsize=(15.9, 11.89), dpi=100)
fig.subplots_adjust(left=83/1590, right=1567/1590, top=1-31.5/1189, bottom=1-1115/1189, hspace=0.2655, wspace=0.105)

# flight track
ax = axes[0, 0]
ax.set_facecolor("#d4e6f1")
for poly in [north_america, south_america, africa, eurasia, antarctica] + islands:
    xs, ys = zip(*poly)
    ax.fill(xs, ys, facecolor="#e8e8e4", edgecolor="#bcc4c6", linewidth=0.6, zorder=1)
for poly in inland_seas:
    xs, ys = zip(*poly)
    ax.fill(xs, ys, facecolor="#d4e6f1", edgecolor="#bcc4c6", linewidth=0.5, zorder=1.1)
for line in borders:
    xs, ys = zip(*line)
    ax.plot(xs, ys, color="#d6d7d4", linewidth=0.5, zorder=1.2)
lons, lats = zip(*(track_fixes + track_fixes_more))
ax.scatter(lons, lats, s=9, color=RED, label="Track", zorder=3)
ax.scatter([launch_lon], [launch_lat], s=130, color="#27ae60", edgecolor="black", linewidth=1.2, label="Launch", zorder=5)
ax.scatter([last_lon], [last_lat], s=220, marker="*", color="#1f77b4", edgecolor="black", linewidth=1.2, label="Last fix", zorder=5)
ax.set_xlim(-180, 180)
ax.set_ylim(-90, 90)
ax.set_xticks(range(-180, 181, 60))
ax.set_yticks(range(-90, 91, 30))
ax.set_xlabel("Longitude (deg)")
ax.set_ylabel("Latitude (deg)")
ax.set_title("Flight Track")
ax.grid(alpha=0.4, linewidth=0.5, linestyle="--", zorder=2)
ax.legend(loc="lower left", fontsize=8)

# text panel
ax = axes[0, 1]
ax.axis("off")
ax.text(0.5, 0.9345, "Pico Balloon Archive", transform=ax.transAxes, ha="center", va="center", fontsize=16, color=TITLE_BLUE)
ax.text(0.5, 0.862, "Callsign: KE0AKT-8   (WSPR)", transform=ax.transAxes, ha="center", va="center", fontsize=14)
for txt, y in zip(score_lines, line_y):
    ax.text(0.5, y, txt, transform=ax.transAxes, ha="center", va="center", fontsize=11)
ax.text(0.5, 0.261, "Data quality score: 0.855", transform=ax.transAxes, ha="center", va="center", fontsize=13, color=TITLE_BLUE)
ax.text(0.5055, 0.194, "precision=0.91   cadence=1.00   agreement=1.00   stability=0.99   coverage=0.42", transform=ax.transAxes, ha="center", va="center", fontsize=9, color="#555555")

# wind speed, the band follows each reading so it stays thin inside a column
ax = axes[1, 0]
band_x = [d for d, v in zip(wind_days, wind_vals) for _ in v]
band_y = [y for v in wind_vals for y in v]
band_e = [e for e, v in zip(wind_errs, wind_vals) for _ in v]
band_lo = np.array(band_y) - np.array(band_e)
band_hi = np.array(band_y) + np.array(band_e)
ax.fill_between(to_dates(band_x), band_lo, band_hi, color=GREY, alpha=0.3, linewidth=1.2, label="±1σ propagated error")
ax.scatter(to_dates(band_x + wind_more_days), band_y + wind_more_vals, s=5, color=NAVY, label="Wind speed", zorder=3)
ax.plot(to_dates(mean_days), mean_speed, color=RED, linewidth=1.5, label="Daily mean", zorder=4)
ax.set_ylim(0, 72.4)
ax.set_ylabel("Wind speed (m s$^{-1}$)")
ax.set_title("Wind Speed vs. Time")
ax.legend(loc="upper right", fontsize=8)

# latitude
ax = axes[1, 1]
ax.scatter(to_dates(lat_days), lat_vals, s=9, color="black", zorder=3)
ax.set_ylim(-90, 90)
ax.set_yticks(range(-90, 91, 30))
ax.set_ylabel("Latitude (deg)")
ax.set_title("Latitude vs. Time")

# altitude
ax = axes[2, 0]
pt_x = [d for d, v in zip(alt_days, alt_vals) for _ in v]
pt_y = [y for v in alt_vals for y in v]
ax.scatter(to_dates(pt_x + alt_more_days), pt_y + alt_more_vals, s=5, color=GREY, zorder=3)
ax.plot(to_dates(alt_mean_days), alt_mean, color=RED, linewidth=1.5, zorder=4)
ax.set_ylim(11662, 14632)
ax.set_ylabel("Altitude (m AMSL)")
ax.set_xlabel("UTC date")
ax.set_title("Balloon Altitude vs. Time")

for ax, left in [(axes[1, 0], 12.2), (axes[1, 1], 11.7), (axes[2, 0], 12.2)]:
    ax.set_xlim(day0 - left, day0 + 235.1)
    ax.xaxis.set_major_locator(mdates.MonthLocator())
    ax.xaxis.set_major_formatter(mdates.DateFormatter("%y-%m-%d"))
    ax.tick_params(axis="x", rotation=20)
    ax.grid(alpha=0.3)

# u and v histogram
ax = axes[2, 1]
mids = np.array(bin_left) + 2.5
ax.hist(mids, bins=hist_edges, weights=u_counts, alpha=0.65, color="#1f77b4", edgecolor="black", label="U (zonal)")
ax.hist(mids, bins=hist_edges, weights=v_counts, alpha=0.65, color="#ff7f0e", edgecolor="black", label="V (meridional)")
ax.set_xlim(-100, 100)
ax.set_xlabel("Wind speed (m s$^{-1}$)")
ax.set_ylabel("Frequency")
ax.set_title("U and V Wind Components")
ax.grid(alpha=0.3)
ax.legend(loc="upper right", fontsize=8)

fig.savefig("out.png", dpi=100)
